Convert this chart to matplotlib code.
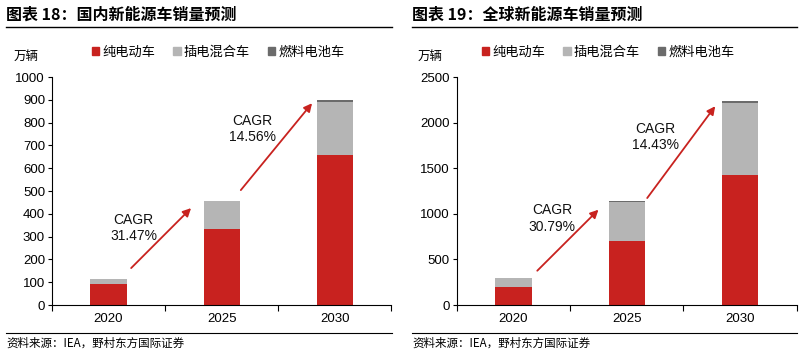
import matplotlib
matplotlib.use("Agg")
import matplotlib.pyplot as plt
from matplotlib.lines import Line2D
from matplotlib.patches import Rectangle

plt.rcParams['font.family'] = ['Liberation Sans', 'Noto Sans CJK SC', 'DejaVu Sans']

years = ["2020", "2025", "2030"]
series_names = ["纯电动车", "插电混合车", "燃料电池车"]
colors = ["#C8221F", "#B5B5B5", "#6B6B6B"]

dom_bev = [92, 333, 660]
dom_phev = [23, 122, 232]
dom_fcev = [1, 2, 6]

glb_bev = [200, 705, 1430]
glb_phev = [95, 428, 788]
glb_fcev = [2, 8, 22]

dom_cagr = ["CAGR\n31.47%", "CAGR\n14.56%"]
glb_cagr = ["CAGR\n30.79%", "CAGR\n14.43%"]

titles = ["图表 18：国内新能源车销量预测", "图表 19：全球新能源车销量预测"]
unit = "万辆"
source = "资料来源：IEA，野村东方国际证券"

# annotation placements (data coords): arrow start, arrow end, text position
dom_arrows = [((0.20, 162), (0.73, 425), (0.22, 338)),
              ((1.17, 504), (1.80, 885), (1.27, 772))]
glb_arrows = [((0.21, 376), (0.75, 1045), (0.34, 948)),
              ((1.18, 1173), (1.78, 2180), (1.25, 1842))]

fig = plt.figure(figsize=(8, 3.52), dpi=100)

panels = [
    dict(ax_rect=[0.065, 0.1335, 0.424, 0.6477], bev=dom_bev, phev=dom_phev, fcev=dom_fcev,
         ymax=1000, ystep=100, cagr=dom_cagr, arrows=dom_arrows, title=titles[0],
         x0=6, x1=392, unit_x=14, leg_x=92),
    dict(ax_rect=[0.571, 0.1335, 0.425, 0.6477], bev=glb_bev, phev=glb_phev, fcev=glb_fcev,
         ymax=2500, ystep=500, cagr=glb_cagr, arrows=glb_arrows, title=titles[1],
         x0=412, x1=797, unit_x=418, leg_x=482),
]

W, H = 800, 352
cjk = ['Noto Sans CJK SC', 'DejaVu Sans']
for p in panels:
    ax = fig.add_axes(p["ax_rect"])
    x = list(range(len(years)))
    bw = 0.32
    ax.bar(x, p["bev"], width=bw, color=colors[0], zorder=2)
    bottom2 = p["bev"]
    ax.bar(x, p["phev"], width=bw, bottom=bottom2, color=colors[1], zorder=2)
    bottom3 = [a + b for a, b in zip(p["bev"], p["phev"])]
    ax.bar(x, p["fcev"], width=bw, bottom=bottom3, color=colors[2], zorder=2)

    ax.set_xlim(-0.5, 2.5)
    ax.set_ylim(0, p["ymax"])
    ax.set_yticks(range(0, p["ymax"] + 1, p["ystep"]))
    ax.set_xticks([-0.5, 0.5, 1.5, 2.5])
    ax.set_xticklabels([])
    ax.set_xticks(x, minor=True)
    ax.set_xticklabels(years, minor=True, fontsize=9.5)
    ax.tick_params(axis='x', which='minor', length=0, pad=6)
    ax.tick_params(axis='x', which='major', length=4, direction='out', width=0.8)
    ax.tick_params(axis='y', length=3, direction='out', labelsize=9.5, pad=2, width=0.8)
    for s in ["top", "right"]:
        ax.spines[s].set_visible(False)
    for s in ["left", "bottom"]:
        ax.spines[s].set_linewidth(0.8)
        ax.spines[s].set_color("black")

    for (start, end, tpos), txt in zip(p["arrows"], p["cagr"]):
        ax.annotate("", xy=end, xytext=start,
                    arrowprops=dict(arrowstyle="-|>", color="#C8221F", lw=1.3,
                                    mutation_scale=12, shrinkA=0, shrinkB=0))
        ax.text(tpos[0], tpos[1], txt, ha="center", va="center", fontsize=10,
                linespacing=1.2, color="#111111")

    # title and rules
    fig.text(p["x0"] / W, 1 - 15 / H, p["title"], fontsize=11.5, fontweight="bold",
             ha="left", va="center", family=cjk)
    fig.add_artist(Line2D([p["x0"] / W, p["x1"] / W], [1 - 27 / H, 1 - 27 / H],
                          color="black", lw=1.0, transform=fig.transFigure))
    fig.add_artist(Line2D([p["x0"] / W, p["x1"] / W], [1 - 333 / H, 1 - 333 / H],
                          color="black", lw=0.8, transform=fig.transFigure))
    fig.text(p["x0"] / W, 1 - 343 / H, source, fontsize=8.3, ha="left", va="center",
             family=cjk)
    fig.text(p["unit_x"] / W, 1 - 56 / H, unit, fontsize=9, ha="left", va="center",
             family=cjk)

    # legend
    handles = [Rectangle((0, 0), 1, 1, color=c) for c in colors]
    fig.legend(handles, series_names, loc="center left",
               bbox_to_anchor=(p["leg_x"] / W, 1 - 52 / H), ncol=3, frameon=False,
               handlelength=0.55, handleheight=0.55, handletextpad=0.25,
               columnspacing=1.35, borderaxespad=0, borderpad=0,
               prop=dict(family=cjk, size=9.5))

fig.savefig("out.png", dpi=100)
